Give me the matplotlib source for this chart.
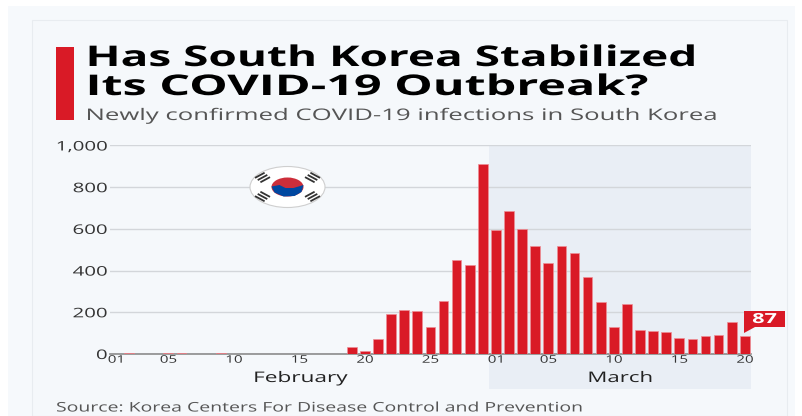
"""South Korea daily COVID-19 infections, Feb-Mar 2020."""

import matplotlib

matplotlib.use("Agg")
import matplotlib.pyplot as plt
from matplotlib.patches import Ellipse, Polygon, Rectangle
from matplotlib.patheffects import AbstractPathEffect
from matplotlib.transforms import Affine2D

W, H = 803, 416
RED = "#d91a26"
PANEL = "#f5f8fb"
SHADE = "#e9eef5"

feb_values = [0, 3, 0, 1, 5, 3, 0, 0, 3, 0, 0, 0, 0, 0, 0, 2, 0, 2, 34, 16,
              74, 190, 210, 207, 130, 253, 449, 427, 909]
mar_values = [595, 686, 600, 516, 438, 518, 483, 367, 248, 131, 242, 114, 110,
              107, 76, 74, 84, 93, 152, 87]
y_ticks = [0, 200, 400, 600, 800, 1000]
y_labels = ["0", "200", "400", "600", "800", "1,000"]
x_labels = ["01", "05", "10", "15", "20", "25", "01", "05", "10", "15", "20"]
x_label_days = [1, 5, 10, 15, 20, 25, 30, 34, 39, 44, 49]

values = feb_values + mar_values
days = list(range(1, len(values) + 1))


class StretchX(AbstractPathEffect):
    """The reference is squashed vertically, so widen glyphs about an anchor."""

    def __init__(self, sx, anchor=0.5):
        super().__init__()
        self.sx = sx
        self.anchor = anchor

    def draw_path(self, renderer, gc, tpath, affine, rgbFace=None):
        xs = affine.transform(tpath.vertices)[:, 0]
        pivot = xs.min() + self.anchor * (xs.max() - xs.min())
        wide = Affine2D().translate(-pivot, 0).scale(self.sx, 1).translate(pivot, 0)
        renderer.draw_path(gc, tpath, affine + wide, rgbFace)


plt.rcParams["font.family"] = "Open Sans"
fig = plt.figure(figsize=(W / 100, H / 100), dpi=100, facecolor="white")


def px_axes(left, top, right, bottom, **kw):
    return fig.add_axes((left / W, 1 - bottom / H, (right - left) / W, (bottom - top) / H), **kw)


# background layer in pixel coordinates
bg = px_axes(0, 0, W, H, zorder=0)
bg.set_xlim(0, W)
bg.set_ylim(H, 0)
bg.axis("off")
bg.add_patch(Rectangle((8, 6), 787, 410, fc="#f6f9fc", ec="none"))
bg.add_patch(Rectangle((32, 20), 755, 396, fc=PANEL, ec="#e8ecf0", lw=0.8))
bg.add_patch(Rectangle((56, 47), 18, 73, fc=RED, ec="none"))
bg.add_patch(Rectangle((489, 145), 262, 244, fc=SHADE, ec="none"))

# bars
ax = px_axes(110, 145.5, 751, 354, zorder=1)
ax.patch.set_alpha(0)
ax.bar(days, values, width=0.74, color=RED, edgecolor="#ee8f96", linewidth=0.5, zorder=3)
ax.set_xlim(0.55, 49.47)
ax.set_ylim(0, 1000)
ax.set_yticks(y_ticks, y_labels)
ax.set_xticks(x_label_days, x_labels)
ax.tick_params(axis="y", length=0, pad=2, labelsize=9.5, labelcolor="#333333")
ax.tick_params(axis="x", length=0, pad=0.5, labelsize=7.5, labelcolor="#333333")
for lab in ax.get_yticklabels():
    lab.set_path_effects([StretchX(1.55, anchor=1.0)])
for lab in ax.get_xticklabels():
    lab.set_path_effects([StretchX(1.45)])
ax.grid(axis="y", color="#d3d6da", lw=1, zorder=1)
ax.set_axisbelow(True)
for side in ("top", "right", "left"):
    ax.spines[side].set_visible(False)
ax.spines["bottom"].set_color("#8c8c8c")
ax.spines["bottom"].set_linewidth(1.2)

# foreground layer: text, flag, callout box
fg = px_axes(0, 0, W, H, zorder=2)
fg.set_xlim(0, W)
fg.set_ylim(H, 0)
fg.axis("off")
fg.add_patch(Rectangle((744, 311), 41, 16, fc=RED, ec="none"))
fg.add_patch(Polygon([(744, 325), (755, 327), (744, 333)], fc=RED, ec="none"))
renderer = fig.canvas.get_renderer()


def wide_text(x, y, s, width, size, color, anchor=0.0, weight="normal"):
    # measure at natural width, then stretch to the width
    t = fg.text(x, y, s, fontsize=size, color=color, fontweight=weight,
                va="center", ha={0.0: "left", 0.5: "center"}[anchor])
    t.set_path_effects([StretchX(width / t.get_window_extent(renderer).width, anchor)])
    return t


wide_text(85.5, 58.5, "Has South Korea Stabilized", 612, 20.5, "black", weight="bold")
wide_text(85.5, 87.5, "Its COVID-19 Outbreak?", 563, 20.5, "black", weight="bold")
wide_text(85.5, 116, "Newly confirmed COVID-19 infections in South Korea", 633, 11.5, "#555555")
wide_text(300.5, 378.5, "February", 95, 10.5, "#222222", anchor=0.5)
wide_text(620, 378.5, "March", 66, 10.5, "#222222", anchor=0.5)
wide_text(56, 408, "Source: Korea Centers For Disease Control and Prevention", 533, 9.5, "#555555")
wide_text(764.5, 319, str(values[-1]), 25, 10, "white", anchor=0.5, weight="bold")

# flag badge
cx, cy = 287.5, 187
fg.add_patch(Ellipse((cx, cy), 75, 41, fc="white", ec="#cfcfcf", lw=0.8))
fg.add_patch(Ellipse((cx, cy), 32, 19, fc="#cd2e3a", ec="none"))
fg.add_patch(Polygon([(cx - 16, cy - 0.5), (cx - 8, cy - 2), (cx - 2, cy + 1), (cx + 6, cy + 1), (cx + 16, cy - 2),
                      (cx + 14, cy + 5), (cx + 7, cy + 9), (cx - 4, cy + 9.5), (cx - 13, cy + 5.5)],
                     fc="#0047a0", ec="none"))
for sx, sy in ((-1, -1), (1, -1), (-1, 1), (1, 1)):
    for k in (-1, 0, 1):
        mx = cx + sx * (25 + k * 2.7)
        my = cy + sy * (9.5 + k * 2.2)
        dx, dy = 4.8, 2.6 * (sx * sy)
        fg.plot([mx - dx, mx + dx], [my + dy, my - dy], color="#333333", lw=1.3, solid_capstyle="butt")

fig.savefig("out.png", dpi=100, facecolor="white")
